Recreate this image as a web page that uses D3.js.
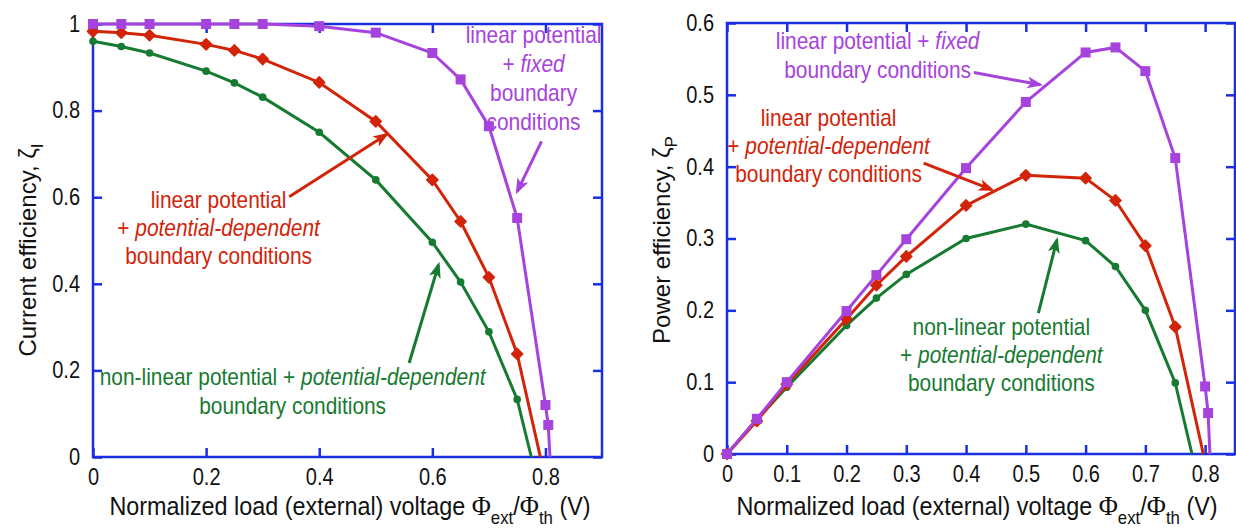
<!DOCTYPE html>
<meta charset="utf-8">
<style>

body {
  margin: 0;
  background: #fff;
}

svg {
  font-family: "Liberation Sans", Arial, sans-serif;
}

.frame {
  fill: none;
  stroke: #1a2ee6;
  stroke-width: 2.5;
}

.axis path.domain {
  display: none;
}

.axis line {
  stroke: #1a2ee6;
  stroke-width: 2.5;
}

.axis text {
  font-size: 23px;
  fill: #111;
}

.line {
  fill: none;
  stroke-width: 3;
}

.note {
  font-size: 24px;
}

.title {
  font-size: 25px;
  fill: #111;
}

.arrow {
  fill: none;
  stroke-width: 3;
}

</style>
<body>
<script src="https://d3js.org/d3.v7.min.js"></script>
<script>

// load voltage (x) for all three series
var loadVoltage = [0, 0.05, 0.1, 0.2, 0.25, 0.3, 0.4, 0.5, 0.6, 0.65, 0.7, 0.75];
var loadVoltageFixed = [0, 0.05, 0.1, 0.2, 0.25, 0.3, 0.4, 0.5, 0.6, 0.65, 0.7, 0.75, 0.8, 0.805];

// current efficiency
var currentFixed  = [1, 1, 1, 1, 1, 1, 0.995, 0.98, 0.933, 0.872, 0.764, 0.552, 0.12, 0.074];
var currentPotDep = [0.983, 0.98, 0.974, 0.953, 0.939, 0.919, 0.865, 0.775, 0.64, 0.544, 0.415, 0.238];
var currentNonLin = [0.96, 0.948, 0.933, 0.891, 0.864, 0.831, 0.75, 0.64, 0.496, 0.404, 0.289, 0.133];

// power efficiency
var powerFixed  = [0, 0.049, 0.1, 0.199, 0.249, 0.299, 0.398, 0.49, 0.559, 0.566, 0.533, 0.412, 0.094, 0.057];
var powerPotDep = [0, 0.046, 0.097, 0.188, 0.235, 0.275, 0.346, 0.388, 0.384, 0.353, 0.29, 0.177];
var powerNonLin = [0, 0.048, 0.093, 0.179, 0.217, 0.25, 0.3, 0.32, 0.297, 0.261, 0.2, 0.099];

// where each curve meets zero (fixed, potential-dependent, non-linear)
var zeroCurrent = [0.808, 0.791, 0.775];
var zeroPower   = [0.808, 0.797, 0.778];

// ticks
var xTicksCurrent = [0, 0.2, 0.4, 0.6, 0.8];
var yTicksCurrent = [0, 0.2, 0.4, 0.6, 0.8, 1];
var xTicksPower = [0, 0.1, 0.2, 0.3, 0.4, 0.5, 0.6, 0.7, 0.8];
var yTicksPower = [0, 0.1, 0.2, 0.3, 0.4, 0.5, 0.6];

// annotation texts: each line is a list of [text, italic]
var noteFixedCurrent  = [[["linear potential"]], [["+ "], ["fixed", true]], [["boundary"]], [["conditions"]]];
var notePotDepCurrent = [[["linear potential"]], [["+ "], ["potential-dependent", true]], [["boundary conditions"]]];
var noteNonLinCurrent = [[["non-linear potential + "], ["potential-dependent", true]], [["boundary conditions"]]];
var noteFixedPower  = [[["linear potential + "], ["fixed", true]], [["boundary conditions"]]];
var notePotDepPower = [[["linear potential"]], [["+ "], ["potential-dependent", true]], [["boundary conditions"]]];
var noteNonLinPower = [[["non-linear potential"]], [["+ "], ["potential-dependent", true]], [["boundary conditions"]]];

var colors = {fixed: "#a643dc", potDep: "#d22409", nonLin: "#177a31"};

// the original lettering is a narrow sans; squeeze Liberation Sans to match
var narrow = 0.87;

var svg = d3.select("body").append("svg")
    .attr("width", 1236)
    .attr("height", 529);

var defs = svg.append("defs");
Object.keys(colors).forEach(function(k) {
  defs.append("marker")
      .attr("id", "head-" + k)
      .attr("markerUnits", "userSpaceOnUse")
      .attr("markerWidth", 16)
      .attr("markerHeight", 12)
      .attr("refX", 13)
      .attr("refY", 6)
      .attr("orient", "auto")
    .append("path")
      .attr("d", "M0,0 L16,6 L0,12 L4,6 Z")
      .attr("fill", colors[k]);
});

function zip(xs, ys) {
  return ys.map(function(v, i) { return [xs[i], v]; });
}

function fmt(d) { return String(d); }

function squeeze(sel) {
  sel.attr("transform", "scale(" + narrow + ",1)")
     .attr("x", function() { return +d3.select(this).attr("x") / narrow || 0; });
}

function drawPanel(cfg) {
  var g = svg.append("g")
      .attr("transform", "translate(" + cfg.left + "," + cfg.top + ")");

  var x = d3.scaleLinear().domain(cfg.xDomain).range([0, cfg.width]);
  var y = d3.scaleLinear().domain(cfg.yDomain).range([cfg.height, 0]);

  g.append("g")
      .attr("class", "axis")
      .attr("transform", "translate(0," + cfg.height + ")")
      .call(d3.axisBottom(x).tickValues(cfg.xTicks).tickSize(-9).tickPadding(12).tickFormat(fmt))
    .selectAll("text").call(squeeze);
  g.append("g")
      .attr("class", "axis")
      .call(d3.axisTop(x).tickValues(cfg.xTicks).tickSize(-9).tickFormat(""));
  g.append("g")
      .attr("class", "axis")
      .call(d3.axisLeft(y).tickValues(cfg.yTicks).tickSize(-9).tickPadding(13).tickFormat(fmt))
    .selectAll("text").call(squeeze);
  g.append("g")
      .attr("class", "axis")
      .attr("transform", "translate(" + cfg.width + ",0)")
      .call(d3.axisRight(y).tickValues(cfg.yTicks).tickSize(-9).tickFormat(""));

  g.append("rect")
      .attr("class", "frame")
      .attr("width", cfg.width)
      .attr("height", cfg.height);

  var line = d3.line()
      .x(function(d) { return x(d[0]); })
      .y(function(d) { return y(d[1]); });

  cfg.series.forEach(function(s) {
    var pts = zip(s.x, s.y);
    g.append("path")
        .attr("class", "line")
        .attr("stroke", s.color)
        .attr("d", line(pts.concat([[s.zero, 0]])));

    var sym = g.append("g").selectAll("path")
        .data(pts)
      .enter().append("path")
        .attr("fill", s.color);
    if (s.marker === "square") {
      sym.attr("d", d3.symbol(d3.symbolSquare, 100))
          .attr("transform", function(d) { return "translate(" + x(d[0]) + "," + y(d[1]) + ")"; });
    } else if (s.marker === "diamond") {
      sym.attr("d", d3.symbol(d3.symbolSquare, 62))
          .attr("stroke", s.color).attr("stroke-width", 1.5).attr("stroke-linejoin", "round")
          .attr("transform", function(d) { return "translate(" + x(d[0]) + "," + y(d[1]) + ") rotate(45)"; });
    } else {
      sym.attr("d", d3.symbol(d3.symbolCircle, 46))
          .attr("transform", function(d) { return "translate(" + x(d[0]) + "," + y(d[1]) + ")"; });
    }
  });

  cfg.notes.forEach(function(n) {
    var t = g.append("g")
        .attr("transform", "translate(" + x(n.at[0]) + "," + y(n.at[1]) + ") scale(" + narrow + ",1)")
      .append("text")
        .attr("class", "note")
        .attr("fill", colors[n.key])
        .attr("text-anchor", "middle");
    n.lines.forEach(function(parts, i) {
      parts.forEach(function(p, j) {
        var ts = t.append("tspan").text(p[0]);
        if (j === 0) ts.attr("x", 0).attr("dy", i === 0 ? 0 : n.step);
        if (p[1]) ts.style("font-style", "italic");
      });
    });
    g.append("line")
        .attr("class", "arrow")
        .attr("stroke", colors[n.key])
        .attr("x1", x(n.from[0])).attr("y1", y(n.from[1]))
        .attr("x2", x(n.to[0])).attr("y2", y(n.to[1]))
        .attr("marker-end", "url(#head-" + n.key + ")");
  });

  // y title
  var yt = svg.append("text")
      .attr("class", "title")
      .style("font-size", "24px")
      .attr("text-anchor", "middle")
      .attr("transform", "translate(" + cfg.yTitleX + "," + cfg.yTitleY + ") rotate(-90)");
  yt.append("tspan").text(cfg.yTitle + ", \u03b6");
  yt.append("tspan").text(cfg.ySub).attr("dy", 7).style("font-size", "17px");

  // x title
  var xt = svg.append("g")
      .attr("transform", "translate(" + cfg.xTitleX + ",515) scale(0.935,1)")
    .append("text")
      .attr("class", "title")
      .attr("text-anchor", "middle");
  xt.append("tspan").text("Normalized load (external) voltage ");
  xt.append("tspan").text("\u03a6").style("font-family", "Liberation Serif, serif").style("font-size", "28px");
  xt.append("tspan").text("ext").attr("dy", 9).style("font-size", "18px");
  xt.append("tspan").text("/").attr("dy", -9);
  xt.append("tspan").text("\u03a6").style("font-family", "Liberation Serif, serif").style("font-size", "28px");
  xt.append("tspan").text("th").attr("dy", 9).style("font-size", "18px");
  xt.append("tspan").text(" (V)").attr("dy", -9);
}

drawPanel({
  left: 93, top: 24, width: 509, height: 433,
  xDomain: [0, 0.9], yDomain: [0, 1],
  xTicks: xTicksCurrent, yTicks: yTicksCurrent,
  yTitle: "Current efficiency", ySub: "I", yTitleX: 36, yTitleY: 250, xTitleX: 350,
  series: [
    {color: colors.nonLin, marker: "circle", x: loadVoltage, y: currentNonLin, zero: zeroCurrent[2]},
    {color: colors.potDep, marker: "diamond", x: loadVoltage, y: currentPotDep, zero: zeroCurrent[1]},
    {color: colors.fixed, marker: "square", x: loadVoltageFixed, y: currentFixed, zero: zeroCurrent[0]}
  ],
  notes: [
    {key: "fixed", lines: noteFixedCurrent, at: [0.779, 0.957], step: 29, from: [0.793, 0.729], to: [0.75, 0.613]},
    {key: "potDep", lines: notePotDepCurrent, at: [0.222, 0.576], step: 28, from: [0.347, 0.601], to: [0.519, 0.745]},
    {key: "nonLin", lines: noteNonLinCurrent, at: [0.353, 0.166], step: 29, from: [0.559, 0.217], to: [0.611, 0.444]}
  ]
});

drawPanel({
  left: 727, top: 23, width: 508, height: 431,
  xDomain: [0, 0.85], yDomain: [0, 0.6],
  xTicks: xTicksPower, yTicks: yTicksPower,
  yTitle: "Power efficiency", ySub: "P", yTitleX: 670, yTitleY: 240, xTitleX: 977,
  series: [
    {color: colors.nonLin, marker: "circle", x: loadVoltage, y: powerNonLin, zero: zeroPower[2]},
    {color: colors.potDep, marker: "diamond", x: loadVoltage, y: powerPotDep, zero: zeroPower[1]},
    {color: colors.fixed, marker: "square", x: loadVoltageFixed, y: powerFixed, zero: zeroPower[0]}
  ],
  notes: [
    {key: "fixed", lines: noteFixedPower, at: [0.252, 0.564], step: 29, from: [0.413, 0.531], to: [0.524, 0.514]},
    {key: "potDep", lines: notePotDepPower, at: [0.17, 0.456], step: 28, from: [0.329, 0.405], to: [0.443, 0.368]},
    {key: "nonLin", lines: noteNonLinPower, at: [0.459, 0.166], step: 28, from: [0.521, 0.196], to: [0.552, 0.298]}
  ]
});

</script>
